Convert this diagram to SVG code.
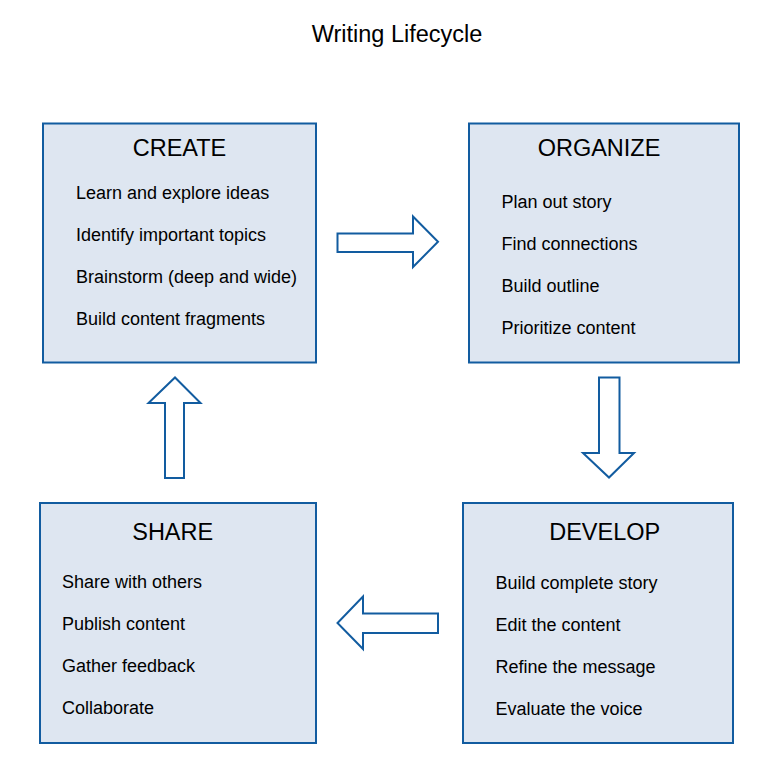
<svg xmlns="http://www.w3.org/2000/svg" width="759" height="763" viewBox="0 0 759 763">
<style>
.box{fill:#dee6f1;stroke:#125ca0;stroke-width:2}
.arr{fill:#ffffff;stroke:#125ca0;stroke-width:2;stroke-linejoin:miter}
text{font-family:"Liberation Sans",Arial,sans-serif;fill:#000}
.title{font-size:23.5px}
.hdr{font-size:23.5px}
.item{font-size:18px}
</style>
<rect width="759" height="763" fill="#ffffff"/>
<text class="title" x="397" y="41.5" text-anchor="middle">Writing Lifecycle</text>
<g id="create">
<rect class="box" x="43" y="123.5" width="273" height="239"/>
<text class="hdr" x="179.5" y="155.7" text-anchor="middle">CREATE</text>
<text class="item" x="76" y="198.5">Learn and explore ideas</text>
<text class="item" x="76" y="240.5">Identify important topics</text>
<text class="item" x="76" y="282.5">Brainstorm (deep and wide)</text>
<text class="item" x="76" y="324.5">Build content fragments</text>
</g>
<g id="organize">
<rect class="box" x="469" y="123.5" width="270" height="239"/>
<text class="hdr" x="599" y="156" text-anchor="middle">ORGANIZE</text>
<text class="item" x="501.5" y="207.5">Plan out story</text>
<text class="item" x="501.5" y="249.5">Find connections</text>
<text class="item" x="501.5" y="291.5">Build outline</text>
<text class="item" x="501.5" y="333.5">Prioritize content</text>
</g>
<g id="develop">
<rect class="box" x="463" y="503" width="270" height="240"/>
<text class="hdr" x="604.7" y="540.3" text-anchor="middle">DEVELOP</text>
<text class="item" x="495.5" y="588.7">Build complete story</text>
<text class="item" x="495.5" y="630.7">Edit the content</text>
<text class="item" x="495.5" y="672.7">Refine the message</text>
<text class="item" x="495.5" y="714.7">Evaluate the voice</text>
</g>
<g id="share">
<rect class="box" x="40" y="503" width="276" height="240"/>
<text class="hdr" x="172.7" y="540.3" text-anchor="middle">SHARE</text>
<text class="item" x="62" y="587.7">Share with others</text>
<text class="item" x="62" y="629.7">Publish content</text>
<text class="item" x="62" y="671.7">Gather feedback</text>
<text class="item" x="62" y="713.7">Collaborate</text>
</g>
<g id="connectors">
<polygon class="arr" points="337.5,233.5 413,233.5 413,216.5 438,241.8 413,267 413,252 337.5,252"/>
<polygon class="arr" points="599,377.5 619.5,377.5 619.5,453 634,453 609,477.5 583,453 599,453"/>
<polygon class="arr" points="438,613.5 438,633 363,633 363,649 337.5,623 363,596.5 363,613.5"/>
<polygon class="arr" points="165,478 184,478 184,403 200.5,403 175,377.5 148.5,403 165,403"/>
</g>
</svg>
